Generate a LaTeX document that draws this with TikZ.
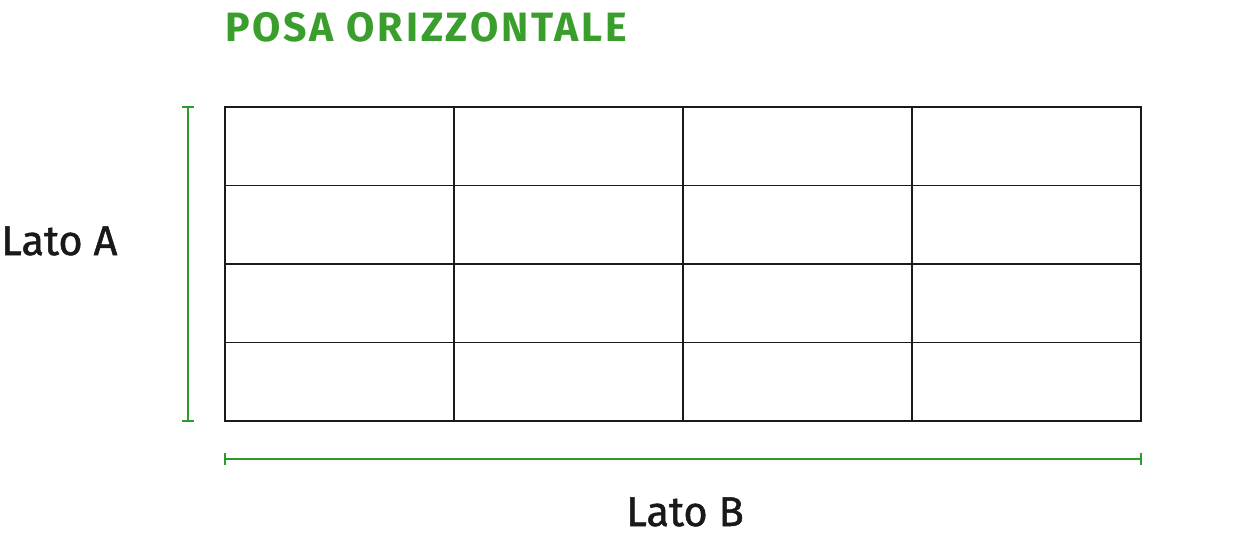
\documentclass[tikz,border=0pt]{standalone}
\usepackage{fontspec}
\setmainfont{Fira Sans}
\newfontfamily\labelfont[FakeBold=1.2]{Fira Sans}
\newfontfamily\titlefont[LetterSpace=7]{Fira Sans Bold}
\definecolor{titlegreen}{HTML}{3A9E2C}
\definecolor{dimgreen}{HTML}{2A9A2A}
\definecolor{gridgray}{HTML}{1A1A1A}
\begin{document}
\begin{tikzpicture}[x=1pt,y=-1pt,
  gridline/.style={draw=gridgray,line width=1.1pt},
  dimline/.style={draw=dimgreen,line width=2.4pt},
  label/.style={inner sep=0pt,anchor=base west,text=black!90,font=\labelfont\fontsize{41.5}{41.5}\selectfont},
  titletext/.style={inner sep=0pt,anchor=base west,text=titlegreen,font=\titlefont\fontsize{41}{41}\selectfont}]
\useasboundingbox (0,0) rectangle (1241,548);
% grid
\draw[gridline] (225,107) rectangle (1141,421);
\foreach \i in {1,2,3}{
  \draw[gridline] ({225+\i*229},107) -- ({225+\i*229},421);
  \draw[gridline] (225,{107+\i*78.5}) -- (1141,{107+\i*78.5});
}
% dimensions
\coordinate (at) at (188,107);
\coordinate (ab) at (188,421);
\draw[dimline] (at) -- (ab);
\draw[dimline] (182,107) -- (194,107);
\draw[dimline] (182,421) -- (194,421);
\coordinate (bl) at (225,459);
\coordinate (br) at (1141,459);
\draw[dimline] (bl) -- (br);
\draw[dimline] (225,453) -- (225,465);
\draw[dimline] (1141,453) -- (1141,465);
% texts
\node[titletext] (title) at (225,42) {POSA ORIZZONTALE};
\node[label] (la) at (1,255) {Lato A};
\node[label] (lb) at (626,526) {Lato B};
\end{tikzpicture}
\end{document}
